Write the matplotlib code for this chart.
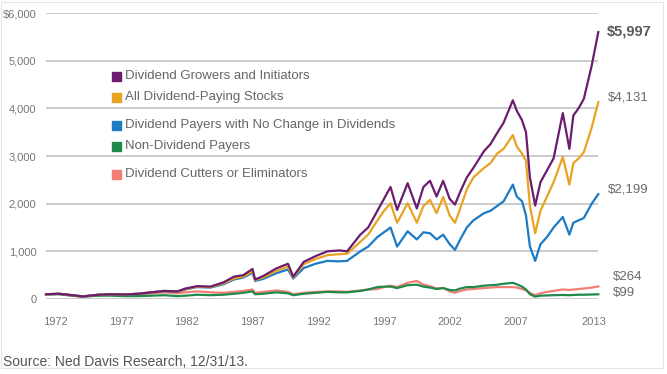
import matplotlib.pyplot as plt
from matplotlib.patches import Rectangle

plt.rcParams['font.family'] = ['Liberation Sans', 'DejaVu Sans']

years = [1972.0, 1973.0, 1974.0, 1974.8, 1976.0, 1977.0, 1978.0, 1979.0, 1980.0, 1981.0,
         1982.0, 1982.6, 1983.5, 1984.5, 1985.5, 1986.3, 1987.0, 1987.7, 1987.9, 1988.5,
         1989.5, 1990.4, 1990.8, 1991.6, 1992.5, 1993.4, 1994.3, 1994.9, 1995.9, 1996.5,
         1997.2, 1997.7, 1998.2, 1998.7, 1999.5, 2000.2, 2000.7, 2001.2, 2001.7, 2002.2,
         2002.7, 2003.1, 2003.5, 2004.0, 2004.5, 2005.3, 2005.8, 2006.3, 2006.8, 2007.5,
         2007.8, 2008.2, 2008.5, 2008.8, 2009.2, 2009.6, 2010.1, 2010.6, 2011.3, 2011.8,
         2012.1, 2012.5, 2012.9, 2013.5, 2014.0]

growers = [100, 110, 80, 55, 90, 100, 95, 110, 140, 170,
           160, 220, 270, 260, 350, 470, 500, 630, 410, 480,
           640, 740, 470, 780, 900, 1000, 1020, 1000, 1350, 1500,
           1850, 2100, 2350, 1870, 2430, 1900, 2350, 2480, 2150, 2480,
           2100, 1980, 2250, 2550, 2750, 3100, 3250, 3480, 3700, 4170,
           3950, 3750, 3500, 2550, 1960, 2450, 2700, 2950, 3900, 3150,
           3850, 4000, 4200, 4900, 5600]

all_payers = [100, 110, 80, 55, 90, 100, 95, 110, 140, 170,
              160, 210, 260, 250, 330, 430, 470, 580, 400, 450,
              590, 680, 450, 730, 840, 920, 940, 950, 1200, 1350,
              1650, 1850, 2010, 1600, 2010, 1600, 1950, 2080, 1800, 2140,
              1750, 1600, 1900, 2300, 2550, 2750, 2850, 3050, 3150, 3440,
              3200, 3050, 2900, 1950, 1380, 1850, 2150, 2450, 2980, 2400,
              2850, 2950, 3080, 3600, 4130]

no_change = [100, 110, 80, 55, 90, 100, 95, 110, 140, 165,
             155, 200, 250, 240, 310, 410, 450, 550, 380, 420,
             540, 620, 430, 650, 740, 800, 790, 800, 1000, 1100,
             1300, 1400, 1500, 1100, 1420, 1250, 1400, 1380, 1250, 1350,
             1150, 1030, 1250, 1500, 1650, 1800, 1850, 1950, 2050, 2400,
             2150, 2050, 1750, 1100, 800, 1150, 1300, 1500, 1720, 1350,
             1600, 1650, 1700, 2000, 2200]

non_payers = [100, 100, 70, 50, 70, 70, 60, 60, 70, 80,
              60, 70, 90, 80, 90, 110, 130, 160, 100, 110,
              140, 120, 80, 110, 130, 150, 140, 140, 170, 200,
              250, 260, 260, 230, 290, 300, 260, 240, 210, 230,
              190, 180, 220, 250, 250, 280, 290, 300, 320, 340,
              310, 260, 200, 100, 50, 70, 75, 80, 85, 80,
              85, 90, 90, 95, 99]

cutters = [100, 105, 70, 50, 85, 90, 85, 100, 120, 140,
           120, 140, 160, 140, 130, 150, 170, 200, 130, 150,
           180, 150, 100, 130, 150, 160, 160, 150, 180, 200,
           210, 250, 280, 250, 340, 380, 300, 270, 220, 230,
           160, 130, 170, 200, 210, 230, 240, 250, 250, 250,
           240, 210, 180, 130, 80, 120, 150, 170, 200, 190,
           200, 210, 220, 240, 264]

series_names = ['Dividend Growers and Initiators', 'All Dividend-Paying Stocks',
                'Dividend Payers with No Change in Dividends', 'Non-Dividend Payers',
                'Dividend Cutters or Eliminators']
colors = ['#6c1c6f', '#e9a322', '#1b7bc4', '#1e8a4c', '#f27f74']
end_labels = ['$5,997', '$4,131', '$2,199', '$99', '$264']
tick_years = [1972, 1977, 1982, 1987, 1992, 1997, 2002, 2007, 2013]
y_ticks = [0, 1000, 2000, 3000, 4000, 5000, 6000]
y_labels = ['0', '1,000', '2,000', '3,000', '4,000', '5,000', '$6,000']

fig = plt.figure(figsize=(6.67, 3.74), dpi=100)
ax = fig.add_axes([0.069, 0.2005, 0.828, 0.7647])

data = [growers, all_payers, no_change, non_payers, cutters]
# draw bottom series first so purple sits on top
for i in [4, 3, 2, 1, 0]:
    ax.plot(years, data[i], color=colors[i], lw=1.6, solid_joinstyle='round', clip_on=False)

ax.set_xlim(1972, 2014)
ax.set_ylim(0, 6000)
ax.set_yticks(y_ticks)
ax.set_yticklabels(y_labels)
ax.set_xticks([y + 0.7 for y in tick_years])
ax.set_xticklabels([str(y) for y in tick_years])
ax.tick_params(length=0, colors='#777777', labelsize=8)
ax.tick_params(axis='x', pad=13)
ax.tick_params(axis='y', pad=7)
ax.grid(axis='y', color='#c4c4c4', lw=1.2)
ax.set_axisbelow(True)
for s in ax.spines.values():
    s.set_visible(False)

# legend drawn by hand, rows are not evenly spaced
leg_y = [76, 97, 125, 146, 174]
for name, c, py in zip(series_names, colors, leg_y):
    yf = 1 - py / 374
    fig.patches.append(Rectangle((112 / 667, yf - 4.5 / 374), 9 / 667, 9 / 374,
                                 transform=fig.transFigure, color=c))
    fig.text(125 / 667, yf, name, fontsize=9.5, color='#666666', va='center')

# end-of-line values
end_pos = [(607, 31), (608, 98), (608, 190), (613, 293), (613, 277)]
for i, (lab, (px, py)) in enumerate(zip(end_labels, end_pos)):
    if i == 0:
        fig.text(px / 667, 1 - py / 374, lab, fontsize=10.5, color='#5a5a5a', va='center',
                 fontweight='bold')
    else:
        fig.text(px / 667, 1 - py / 374, lab, fontsize=9.5, color='#6a6a6a', va='center')

fig.text(3 / 667, 1 - 362 / 374, 'Source: Ned Davis Research, 12/31/13.',
         fontsize=10, color='#555555', va='center')

fig.patches.append(Rectangle((1 / 667, 6 / 374), 662 / 667, 366 / 374, transform=fig.transFigure,
                             fill=False, edgecolor='#e6e6e6', lw=0.8))

fig.savefig('out.png', dpi=100)
